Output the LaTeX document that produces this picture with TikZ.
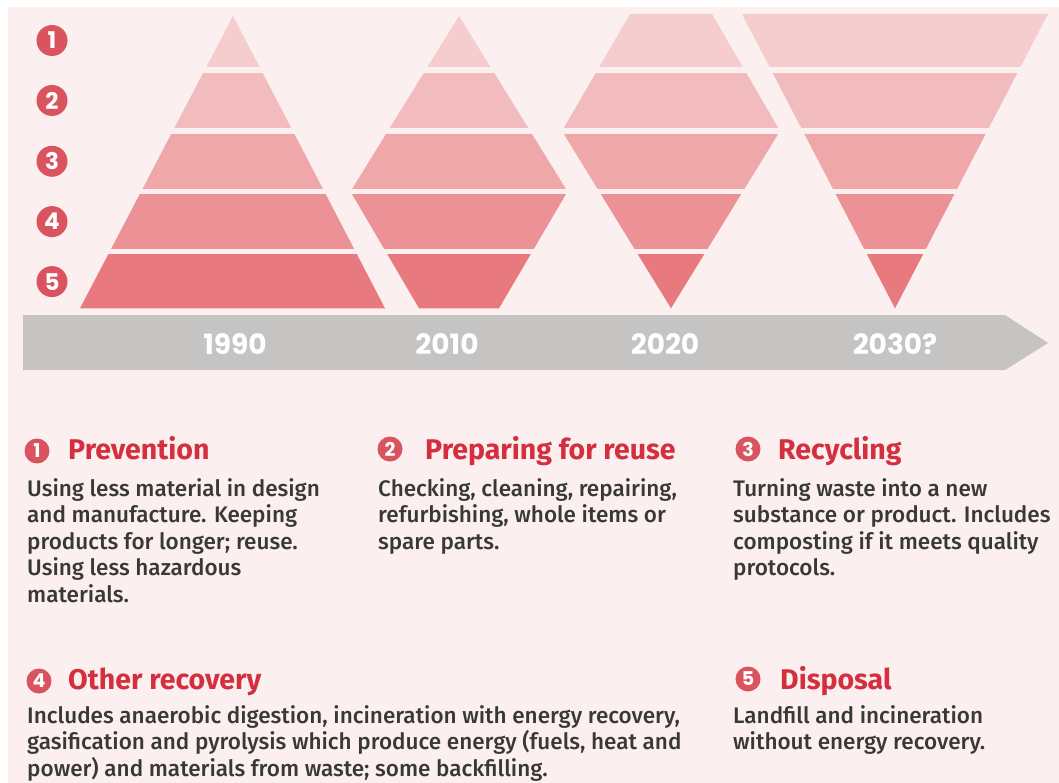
\documentclass[tikz,border=0pt]{standalone}
\usepackage{fontspec}
\setmainfont{Fira Sans}
\newfontfamily\bodyfont{Fira Sans Medium}
\newfontfamily\yearfont{Poppins}

\definecolor{paper}{HTML}{FBEFEF}
\definecolor{bandA}{HTML}{F5CDCF}
\definecolor{bandB}{HTML}{F2BBBD}
\definecolor{bandC}{HTML}{EFA7A9}
\definecolor{bandD}{HTML}{EC9195}
\definecolor{bandE}{HTML}{E8797E}
\definecolor{numred}{HTML}{D9545E}
\definecolor{titlered}{HTML}{D42F3E}
\definecolor{bodygray}{HTML}{383838}
\definecolor{timeline}{HTML}{C5C4C3}

\tikzset{
  numdot/.style={circle, fill=numred, text=white, inner sep=0pt,
    minimum size=31pt, font=\yearfont\bfseries\fontsize{23}{23}\selectfont},
  smalldot/.style={numdot, minimum size=25pt,
    font=\yearfont\bfseries\fontsize{19}{19}\selectfont},
  yearlabel/.style={text=white, inner sep=0pt,
    font=\yearfont\bfseries\fontsize{28}{28}\selectfont},
  heading/.style={anchor=base west, inner sep=0pt, text=titlered,
    font=\bfseries\fontsize{28.5}{28.5}\selectfont},
  % multi-line bodies are placed by the baseline of their last line
  bodytext/.style={anchor=base west, inner sep=0pt, text=bodygray, align=left,
    font=\bodyfont\fontsize{22.5}{26.5}\selectfont},
}

\begin{document}
\begin{tikzpicture}[x=1pt, y=-1pt]
  % page and background
  \useasboundingbox (0,0) rectangle (1059,783);
  \fill[white] (0,0) rectangle (1059,783);
  \fill[paper] (8,7) rectangle (1059,783);

  % outlines of the four hierarchies
  \def\shapeA{(233,16) -- (385,308.3) -- (80,308.3) -- cycle}
  \def\shapeB{(459,16) -- (567.5,191.5) -- (499,308.3) -- (419,308.3) -- (350.5,191.5) -- cycle}
  \def\shapeC{(630,14) -- (712,14) -- (780,131) -- (671,308.3) -- (562,131) -- cycle}
  \def\shapeD{(742,14) -- (1048,14) -- (895,308.3) -- cycle}

  % five horizontal bands, each shape cut into them
  \foreach \top/\bot/\col in {0/66.7/bandA, 73.3/127.7/bandB, 134.3/188.3/bandC,
                              195/248.3/bandD, 255/308.3/bandE}{
    \begin{scope}
      \clip (0,\top) rectangle (1059,\bot);
      \fill[\col] \shapeA;
      \fill[\col] \shapeB;
      \fill[\col] \shapeC;
      \fill[\col] \shapeD;
    \end{scope}
  }

  % level numbers beside the bands
  \node[numdot] (n1) at (52,40.5)  {1};
  \node[numdot] (n2) at (52,100.5) {2};
  \node[numdot] (n3) at (52,161.3) {3};
  \node[numdot] (n4) at (52,221.6) {4};
  \node[numdot] (n5) at (52,281.6) {5};

  % timeline arrow
  \fill[timeline] (23,315) -- (1005,315) -- (1048,343) -- (1005,370) -- (23,370) -- cycle;
  \node[yearlabel] (y1990) at (235,344) {1990};
  \node[yearlabel] (y2010) at (447,344) {2010};
  \node[yearlabel] (y2020) at (665,344) {2020};
  \node[yearlabel] (y2030) at (895,344) {2030?};

  % key: level 1
  \node[smalldot] (k1) at (37,451) {1};
  \node[heading] (h1) at (68,459) {Prevention};
  \node[bodytext] (b1) at (27,602) {Using less material in design\\and manufacture. Keeping\\products for longer; reuse.\\Using less hazardous\\materials.};

  % key: level 2
  \node[smalldot] (k2) at (390,449) {2};
  \node[heading] (h2) at (425,459) {Preparing for reuse};
  \node[bodytext] (b2) at (378,549) {Checking, cleaning, repairing,\\refurbishing, whole items or\\spare parts.};

  % key: level 3
  \node[smalldot] (k3) at (748,449) {3};
  \node[heading] (h3) at (778,459) {Recycling};
  \node[bodytext] (b3) at (733,575.5) {Turning waste into a new\\substance or product. Includes\\composting if it meets quality\\protocols.};

  % key: level 4
  \node[smalldot] (k4) at (39,681) {4};
  \node[heading] (h4) at (68,689) {Other recovery};
  \node[bodytext] (b4) at (27,776) {Includes anaerobic digestion, incineration with energy recovery,\\gasification and pyrolysis which produce energy (fuels, heat and\\power) and materials from waste; some backfilling.};

  % key: level 5
  \node[smalldot] (k5) at (748,679) {5};
  \node[heading] (h5) at (780,689) {Disposal};
  \node[bodytext] (b5) at (733,749.5) {Landfill and incineration\\without energy recovery.};
\end{tikzpicture}
\end{document}
